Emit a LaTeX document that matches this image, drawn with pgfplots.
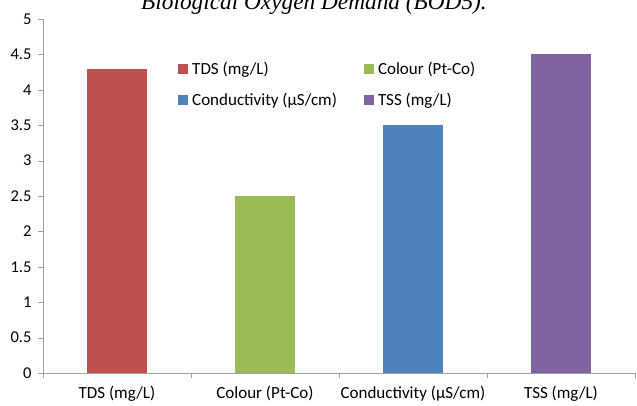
\documentclass[border=0pt]{standalone}
\usepackage{pgfplots}
\pgfplotsset{compat=1.18}
\usepackage{fontspec}
\setmainfont{Carlito}
\newfontfamily\capfont{Liberation Serif}
\definecolor{cred}{HTML}{C0504D}
\definecolor{cgreen}{HTML}{9BBB59}
\definecolor{cblue}{HTML}{4F81BD}
\definecolor{cpurple}{HTML}{8064A2}
\definecolor{axgray}{HTML}{A0A0A0}
\begin{document}
\begin{tikzpicture}[x=1pt,y=1pt]
\useasboundingbox (0,0) rectangle (637,405);
\node[anchor=base,font=\capfont\itshape\fontsize{23.3}{25}\selectfont] at (314,395) {Biological Oxygen Demand (BOD5).};
\begin{axis}[
  scale only axis, width=592pt, height=354pt,
  at={(43pt,32pt)}, anchor=south west,
  xmin=0, xmax=4, ymin=0, ymax=5,
  ybar, bar width=60pt, bar shift=0pt,
  axis x line=bottom, axis y line=left,
  axis line style={axgray,-},
  ytick={0,0.5,...,5},
  yticklabels={0,0.5,1,1.5,2,2.5,3,3.5,4,4.5,5},
  xtick={0.5,1.5,2.5,3.5},
  xticklabels={TDS (mg/L),Colour (Pt-Co),Conductivity (µS/cm),TSS (mg/L)},
  minor xtick={0,1,2,3,4},
  major x tick style={draw=none},
  minor x tick style={axgray},
  y tick style={axgray},
  tick align=outside,
  major tick length=5pt, minor tick length=5pt,
  xticklabel style={font=\fontsize{17}{19}\selectfont, yshift=-5pt},
  yticklabel style={font=\fontsize{16.5}{18}\selectfont, xshift=-3pt},
  /pgf/number format/assume math mode=true,
  legend columns=2,
  legend cell align=left,
  legend style={draw=none, fill=none, at={(0.223,0.89)}, anchor=north west,
    font=\fontsize{17}{19}\selectfont, row sep=13pt,
    /tikz/every even column/.style={column sep=25pt},
    /tikz/every odd column/.style={column sep=2pt}},
  legend image code/.code={\fill[#1] (0pt,-5pt) rectangle (10pt,5pt);},
]
\addplot[fill=cred, draw=none] coordinates {(0.5,4.3)};
\addplot[fill=cgreen, draw=none] coordinates {(1.5,2.5)};
\addplot[fill=cblue, draw=none] coordinates {(2.5,3.5)};
\addplot[fill=cpurple, draw=none] coordinates {(3.5,4.5)};
\legend{TDS (mg/L),Colour (Pt-Co),Conductivity (µS/cm),TSS (mg/L)}
\end{axis}
\end{tikzpicture}
\end{document}
